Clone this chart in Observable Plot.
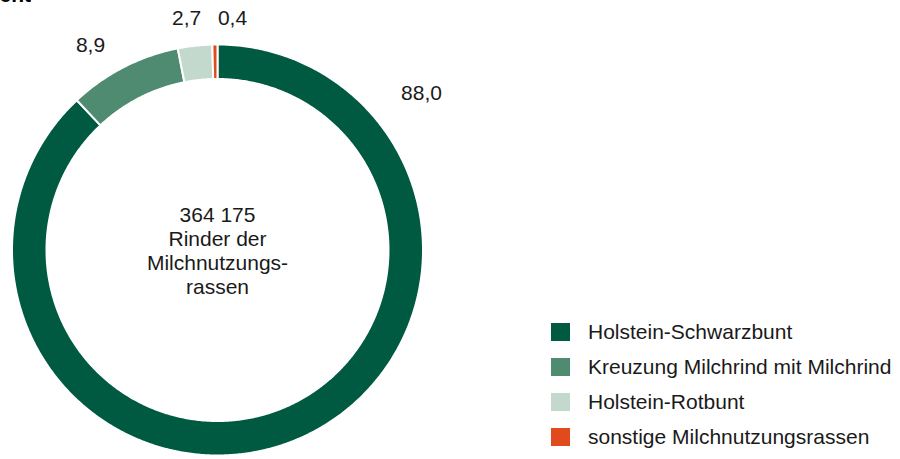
<!DOCTYPE html>
<html><head><meta charset="utf-8">
<script src="https://cdn.jsdelivr.net/npm/d3@7"></script>
<script src="https://cdn.jsdelivr.net/npm/@observablehq/plot@0.6"></script>
<style>
body{margin:0;background:#fff;font-family:"Liberation Sans",Arial,sans-serif;}
#wrap{position:relative;width:900px;height:459px;overflow:hidden;}
#unit{position:absolute;left:-46px;top:-17px;font-size:21px;font-weight:bold;color:#000;}
#legend{position:absolute;left:551px;top:314px;}
.row{display:flex;align-items:center;height:35px;}
.sw{width:19px;height:18px;margin-right:18px;}
.lb{font-size:21px;color:#1a1a1a;}
</style></head>
<body><div id="wrap"><div id="unit">Prozent</div><div id="legend"></div></div>
<script>
const categories = ["Holstein-Schwarzbunt","Kreuzung Milchrind mit Milchrind","Holstein-Rotbunt","sonstige Milchnutzungsrassen"];
const values = [88.0, 8.9, 2.7, 0.4];
const colors = ["#005a41","#4e8b70","#c3d9cd","#e04a1c"];
const totalLabel = "364 175\nRinder der\nMilchnutzungs-\nrassen";
// label placement (layout): angle in degrees clockwise from top, radius relative to outer ring
const labelAngle = [52.4, -31.8, -7.6, 3.7];
const labelRadius = [1.253, 1.173, 1.139, 1.131];

const inner = 171/205.5;
const pie = d3.pie().sort(null).value(d=>d)(values);
const poly = [];
pie.forEach((p,i)=>{
  const a0=p.startAngle,a1=p.endAngle;
  const n=Math.max(2,Math.ceil((a1-a0)/(Math.PI/360)));
  const pts=[];
  for(let k=0;k<=n;k++){const a=a0+(a1-a0)*k/n;pts.push([Math.sin(a),Math.cos(a)]);}
  for(let k=n;k>=0;k--){const a=a0+(a1-a0)*k/n;pts.push([inner*Math.sin(a),inner*Math.cos(a)]);}
  pts.push(pts[0]);
  pts.forEach(([x,y])=>poly.push({x,y,cat:categories[i]}));
});
const labels = values.map((v,i)=>{
  const a=labelAngle[i]*Math.PI/180;
  return {x:labelRadius[i]*Math.sin(a),y:labelRadius[i]*Math.cos(a),t:v.toFixed(1).replace(".",",")};
});

const chart = Plot.plot({
  width:900,height:459,margin:0,
  style:{fontFamily:"'Liberation Sans',Arial,sans-serif",background:"transparent"},
  x:{domain:[-1,1],range:[11.5,422.5],axis:null},
  y:{domain:[-1,1],range:[455,44],axis:null},
  color:{domain:categories,range:colors},
  marks:[
    Plot.line(poly,{x:"x",y:"y",z:"cat",fill:"cat",stroke:"white",strokeWidth:2,curve:"linear"}),
    Plot.text(labels,{x:"x",y:"y",text:"t",fontSize:21,fill:"#1a1a1a"}),
    Plot.text([totalLabel],{x:()=>0,y:()=>0,text:d=>d,fontSize:21,lineHeight:1.14,fill:"#1a1a1a"})
  ]
});
const wrap=document.getElementById("wrap");
chart.style.position="absolute";chart.style.left="0";chart.style.top="0";
wrap.insertBefore(chart,wrap.firstChild);
const leg=document.getElementById("legend");
categories.forEach((c,i)=>{
  const r=document.createElement("div");r.className="row";
  r.innerHTML=`<div class="sw" style="background:${colors[i]}"></div><div class="lb">${c}</div>`;
  leg.appendChild(r);
});
</script></body></html>
